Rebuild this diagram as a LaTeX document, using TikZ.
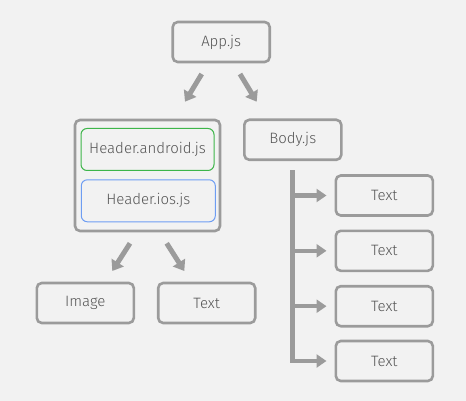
\documentclass[tikz,border=0pt]{standalone}
\usepackage{fontspec}
\setmainfont{Fira Sans}[UprightFont=* Light]
\usetikzlibrary{arrows.meta}
\definecolor{bg}{HTML}{F2F2F2}
\definecolor{edge}{HTML}{9B9B9B}
\definecolor{ink}{HTML}{555555}
\definecolor{andr}{HTML}{3DB54A}
\definecolor{iosb}{HTML}{6E9DF2}

\begin{document}
\begin{tikzpicture}[x=1pt, y=-1pt,
   font=\fontsize{15}{17}\selectfont, text=ink,
   comp/.style={rectangle, rounded corners=5pt, draw=edge, line width=2.6pt, fill=bg,
      minimum width=97pt, minimum height=40pt, inner sep=0pt},
   inner/.style={rectangle, rounded corners=6pt, line width=1pt, fill=bg,
      minimum width=133pt, minimum height=42pt, inner sep=0pt},
   flow/.style={draw=edge, line width=5pt, -{Triangle[length=10pt,width=14pt]}},
   branch/.style={draw=edge, line width=4.5pt, -{Triangle[length=10pt,width=13pt]}, shorten >=8pt}]
   \useasboundingbox[fill=bg] (0,0) rectangle (466,401);
   \node (app) at (221.2,42) [comp] {App.js};
   \node (hdr) at (147.5,175.5) [comp, minimum width=145pt, minimum height=111pt] {};
   \node (andr) at (147.5,149.5) [inner, draw=andr] {Header.android.js};
   \node (ios) at (148.3,200.8) [inner, draw=iosb, minimum width=134pt] {Header.ios.js};
   \node (body) at (292.8,139.8) [comp] {Body.js};
   \node (img) at (85.3,303) [comp] {Image};
   \node (txt) at (206.7,303) [comp] {Text};
   \node (t1) at (384.3,195.5) [comp] {Text};
   \node (t2) at (384.3,250.8) [comp] {Text};
   \node (t3) at (384.3,306.2) [comp] {Text};
   \node (t4) at (384.3,361) [comp] {Text};
   % floating arrows between the rows
   \coordinate (a1) at (201.7,74);   \coordinate (b1) at (185,101.7);
   \coordinate (a2) at (240,74);     \coordinate (b2) at (256.7,101.7);
   \coordinate (a3) at (130,243.3);  \coordinate (b3) at (112.3,271);
   \coordinate (a4) at (166.7,243.3); \coordinate (b4) at (184.3,271);
   \draw[flow] (a1) -- (b1);
   \draw[flow] (a2) -- (b2);
   \draw[flow] (a3) -- (b3);
   \draw[flow] (a4) -- (b4);
   % trunk under Body.js
   \coordinate (top) at ([yshift=-9pt]body.south);
   \coordinate (bot) at (top |- 0,362.7);
   \draw[draw=edge, line width=5pt] (top) -- (bot);
   \draw[branch] (top |- t1) -- (t1.west);
   \draw[branch] (top |- t2) -- (t2.west);
   \draw[branch] (top |- t3) -- (t3.west);
   \draw[branch] (top |- t4) -- (t4.west);
\end{tikzpicture}
\end{document}
